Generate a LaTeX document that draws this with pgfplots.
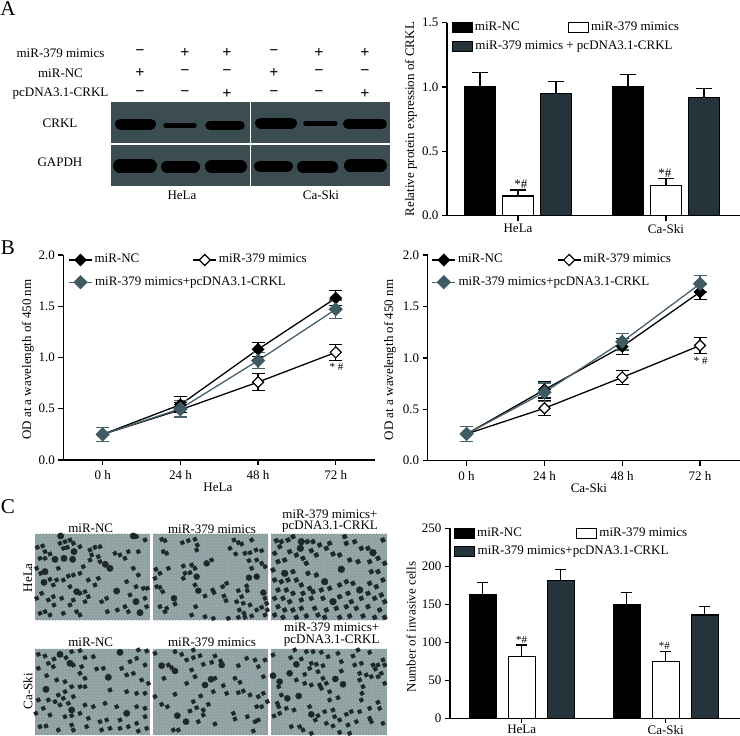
\documentclass[border=0pt]{standalone}
\usepackage{fontspec}
\setmainfont{Liberation Serif}
\usepackage{pgfplots}
\pgfplotsset{compat=1.18}
\usetikzlibrary{patterns}
\definecolor{darkbar}{HTML}{25343A}
\definecolor{tealline}{HTML}{46606A}
\definecolor{tealmark}{HTML}{3F5A62}
\definecolor{blotbg}{HTML}{3C4D52}
\definecolor{microbg}{HTML}{8D9FA1}
\definecolor{microsp}{HTML}{ABB9BA}
\definecolor{blob}{HTML}{20272B}
\newcommand{\tf}{\fontsize{13}{15}\selectfont}
\newcommand{\lab}[3]{\node[font=\tf,inner sep=0pt] at (axis cs:#1,#2) {#3};}
\newcommand{\sgn}[2]{\node[font=\fontsize{16}{18}\selectfont\bfseries,inner sep=0pt] at (axis cs:#1,#2) {−};}
\newcommand{\pls}[2]{\node[font=\fontsize{16}{18}\selectfont\bfseries,inner sep=0pt] at (axis cs:#1,#2) {+};}
\newcommand{\micro}[4]{\fill[microbg] (axis cs:#1,#2) rectangle (axis cs:#3,#4);
 \fill[pattern=crosshatch dots,pattern color=microsp] (axis cs:#1,#2) rectangle (axis cs:#3,#4);}
\pgfplotsset{
 pix/.style={hide axis,scale only axis,clip=false,y dir=reverse,anchor=south west},
 band/.style={no marks,line width=#1,line cap=round,color=black,forget plot},
 big/.style={only marks,mark=*,mark size=#1,color=blob},
 small/.style={only marks,mark=square*,mark size=#1,color=blob,mark options={rotate=25,rounded corners=0.9pt}},
 chart/.style={scale only axis,anchor=south west,enlargelimits=false,clip=false,
  axis x line=bottom,axis y line=left,
  axis line style={-,line width=1.4pt},
  tick style={black,line width=1.4pt},major tick length=5pt,tick align=outside,
  xtick pos=bottom,ytick pos=left,
  tick label style={font=\tf},label style={font=\tf},
  ylabel style={anchor=center},xlabel style={anchor=center},
  legend cell align=left},
 leg/.style 2 args={legend columns=2,legend style={draw=none,fill=none,inner sep=0pt,outer sep=0pt,
  at={(axis description cs:0,1)},anchor=north west,xshift=#1,yshift=#2,
  nodes={inner sep=0pt,font=\tf,text height=9pt,text depth=3pt},
  /tikz/every even column/.style={column sep=0pt},
  /tikz/every odd column/.style={column sep=2pt}}},
 swatch/.style={legend image code/.code={\draw[##1,line width=1.2pt] (0pt,-5pt) rectangle (20pt,5pt);}},
 linekey/.style={legend image code/.code={\draw[mark repeat=2,mark phase=2,##1] plot coordinates {(0pt,0pt)(11.5pt,0pt)(23pt,0pt)};}},
 barerr/.style={error bars/.cd,y dir=plus,y explicit,
  error bar style={black,line width=1.2pt},error mark options={rotate=90,black,line width=1.2pt,mark size=#1}},
 lineerr/.style={error bars/.cd,y dir=both,y explicit,
  error bar style={#1,line width=1.2pt},error mark options={rotate=90,#1,line width=1.2pt,mark size=6.5pt}},
 nc/.style={color=black,line width=1.3pt,mark=square*,mark size=3.9pt,mark options={rotate=45,fill=black,solid}},
 mi/.style={color=black,line width=1.3pt,mark=square*,mark size=3.9pt,mark options={rotate=45,fill=white,solid,line width=1.2pt}},
 pc/.style={color=tealline,line width=1.3pt,mark=square*,mark size=4.4pt,mark options={rotate=45,fill=tealmark,draw=tealmark,solid}},
}
\begin{document}
\begin{tikzpicture}
\useasboundingbox (0,0) rectangle (740pt,736pt);
% ---------- pixel-coordinate layer: blot, micrograph grounds, texts
\begin{axis}[pix,at={(0pt,0pt)},width=740pt,height=736pt,xmin=0,xmax=740,ymin=0,ymax=736]
\fill[blotbg] (axis cs:111,102.3) rectangle (axis cs:250,143.3);
\fill[blotbg] (axis cs:251,102.3) rectangle (axis cs:390,143.3);
\fill[blotbg] (axis cs:111,145) rectangle (axis cs:250,186);
\fill[blotbg] (axis cs:251,145) rectangle (axis cs:390,186);
\addplot[band=11pt] coordinates {(120.5,124)(150.5,124)};
\addplot[band=5.5pt] coordinates {(166,125.7)(194,125.7)};
\addplot[band=9.5pt] coordinates {(210,125.3)(240,125.3)};
\addplot[band=11pt] coordinates {(260.5,123)(291.5,123)};
\addplot[band=5.5pt] coordinates {(306,123.3)(335,123.3)};
\addplot[band=10pt] coordinates {(348,123.7)(382,123.7)};
\addplot[band=14pt] coordinates {(120,165.7)(150,165.7)};
\addplot[band=12pt] coordinates {(167,166.7)(194,166.7)};
\addplot[band=13pt] coordinates {(211.5,166.5)(240.5,166.5)};
\addplot[band=11pt] coordinates {(259.5,166)(287.5,166)};
\addplot[band=12pt] coordinates {(303,166.7)(332,166.7)};
\addplot[band=13pt] coordinates {(350.5,165.7)(380.5,165.7)};
\micro{35}{533.7}{150}{620}
\micro{153.3}{533.7}{268.3}{620}
\micro{271}{533.7}{387}{620}
\micro{35}{648.7}{150}{735}
\micro{153.3}{648.7}{268.3}{735}
\micro{271}{648.7}{387}{735}
\lab{60.5}{53}{miR-379 mimics}
\lab{60.5}{73}{miR-NC}
\lab{60.5}{94}{pcDNA3.1-CRKL}
\lab{60}{123}{CRKL}
\lab{60}{162}{GAPDH}
\lab{182}{195}{HeLa}
\lab{321}{195}{Ca-Ski}
\lab{90.7}{528.7}{miR-NC}
\lab{212}{529}{miR-379 mimics}
\lab{330}{514}{miR-379 mimics+}
\lab{330}{527}{pcDNA3.1-CRKL}
\lab{90.7}{642}{miR-NC}
\lab{212}{642}{miR-379 mimics}
\lab{331.7}{627.7}{miR-379 mimics+}
\lab{331.7}{640.7}{pcDNA3.1-CRKL}
\node[font=\tf,inner sep=0pt,rotate=90] at (axis cs:28,577.7) {HeLa};
\node[font=\tf,inner sep=0pt,rotate=90] at (axis cs:28,691) {Ca-Ski};
\node[font=\fontsize{21}{23}\selectfont,inner sep=0pt] at (axis cs:8,9) {A};
\node[font=\fontsize{21}{23}\selectfont,inner sep=0pt] at (axis cs:8,248) {B};
\node[font=\fontsize{21}{23}\selectfont,inner sep=0pt] at (axis cs:8,507) {C};
\sgn{140}{53}\pls{140}{73}\sgn{140}{94}
\pls{185}{53}\sgn{185}{73}\sgn{185}{94}
\pls{227}{53}\sgn{227}{73}\pls{227}{94}
\sgn{274}{53}\pls{274}{73}\sgn{274}{94}
\pls{319}{53}\sgn{319}{73}\sgn{319}{94}
\pls{365}{53}\sgn{365}{73}\pls{365}{94}
\end{axis}
% ---------- micrograph cells, HeLa row (crop coordinates)
\begin{axis}[pix,at={(30pt,111pt)},width=125pt,height=95pt,xmin=0,xmax=375,ymin=0,ymax=285]
\addplot[big=3.2pt] coordinates {(42,157)(132,65)(128,88)(318,215)(330,248)(260,183)(226,103)(45,125)(92,18)(310,18)(102,85)(75,88)(240,115)(140,185)};
\addplot[small=1.8pt] coordinates {(22,52)(38,48)(45,65)(30,85)(45,85)(60,72)(20,115)(32,130)(90,40)(105,35)(120,30)(130,40)(112,52)(100,55)(150,50)(180,60)(195,52)(210,50)(185,75)(205,80)(180,90)(210,95)(255,70)(270,75)(295,65)(325,65)(285,85)(320,20)(345,30)(310,115)(325,135)(290,155)(340,175)(318,170)(352,175)(300,195)(285,230)(262,240)(232,245)(175,150)(205,145)(195,165)(150,130)(130,135)(115,138)(100,150)(80,150)(60,148)(70,165)(120,170)(150,190)(165,185)(175,200)(165,215)(130,210)(120,225)(95,205)(70,200)(55,210)(72,225)(45,245)(60,255)(30,250)(100,250)(140,245)(150,255)(215,215)(230,205)(295,245)(345,205)(350,230)(20,205)(35,190)(85,115)(160,110)};
\end{axis}
\begin{axis}[pix,at={(150pt,111pt)},width=125pt,height=95pt,xmin=0,xmax=375,ymin=0,ymax=285]
\addplot[big=3pt] coordinates {(170,100)(72,205)(145,182)(340,188)(297,143)(320,140)(140,140)};
\addplot[small=1.8pt] coordinates {(35,28)(45,32)(97,38)(115,32)(135,28)(142,45)(140,60)(40,65)(50,70)(240,55)(252,30)(265,38)(275,42)(305,30)(257,72)(285,70)(300,68)(318,60)(335,62)(297,92)(320,90)(335,100)(345,110)(305,115)(185,90)(100,108)(125,105)(135,115)(105,130)(120,128)(55,115)(30,130)(18,118)(15,145)(100,145)(20,170)(30,172)(38,185)(135,165)(165,198)(188,180)(192,188)(218,170)(230,160)(265,182)(290,168)(292,182)(222,198)(228,212)(275,200)(260,215)(280,220)(300,225)(345,205)(350,220)(30,230)(50,235)(45,245)(75,222)(137,230)(125,255)(268,240)(282,250)(320,240)(335,232)(165,260)(190,265)(235,265)(265,262)(285,262)(305,258)(345,255)(352,240)};
\end{axis}
\begin{axis}[pix,at={(268pt,111pt)},width=125pt,height=95pt,xmin=0,xmax=375,ymin=0,ymax=285]
\addplot[big=3.4pt] coordinates {(97,55)(315,68)(100,35)(275,180)(195,215)(170,155)(220,118)(50,130)};
\addplot[small=2pt] coordinates {(25,32)(40,35)(35,50)(60,30)(75,20)(118,35)(135,35)(130,62)(155,45)(175,55)(185,40)(230,20)(235,40)(260,35)(280,55)(300,55)(345,30)(20,70)(65,65)(85,75)(50,90)(30,95)(105,85)(115,100)(145,75)(195,72)(215,75)(245,90)(270,95)(305,95)(330,85)(350,100)(15,120)(75,125)(120,130)(145,135)(310,125)(330,125)(20,150)(40,155)(60,150)(85,150)(100,165)(125,175)(135,185)(160,180)(185,175)(215,165)(235,155)(255,160)(305,160)(325,170)(345,150)(30,180)(55,180)(75,190)(105,190)(240,190)(300,190)(340,195)(20,205)(45,205)(65,215)(100,210)(130,205)(165,205)(215,200)(250,215)(280,205)(320,205)(350,215)(30,230)(50,240)(75,240)(100,235)(140,235)(175,240)(205,235)(235,230)(265,235)(300,230)(335,240)(20,255)(45,262)(85,262)(115,258)(150,255)(170,262)(215,262)(245,258)(285,258)(320,262)(350,262)};
\end{axis}
% ---------- micrograph cells, Ca-Ski row (crop coordinates)
\begin{axis}[pix,at={(30pt,0pt)},width=125pt,height=91pt,xmin=0,xmax=375,ymin=0,ymax=273]
\addplot[big=3.2pt] coordinates {(270,22)(290,205)(235,97)(120,55)(90,28)(48,133)(125,195)};
\addplot[small=1.8pt] coordinates {(25,28)(45,33)(72,42)(108,38)(125,20)(165,38)(190,35)(150,17)(300,50)(325,15)(350,18)(320,40)(345,60)(25,70)(50,92)(70,65)(55,55)(130,60)(155,65)(200,72)(220,70)(150,85)(165,100)(80,105)(105,110)(125,125)(150,125)(165,125)(275,70)(290,90)(310,85)(335,105)(355,115)(240,135)(290,140)(320,145)(345,145)(85,150)(105,140)(100,160)(130,155)(55,165)(75,170)(40,190)(90,180)(115,175)(165,180)(190,185)(225,175)(345,190)(320,185)(260,185)(60,210)(105,215)(125,212)(150,205)(175,220)(210,230)(230,225)(270,225)(295,245)(320,235)(345,215)(30,245)(48,243)(85,255)(125,240)(130,255)(170,245)(215,255)(240,250)(270,250)(325,258)(350,250)(18,205)(25,165)};
\end{axis}
\begin{axis}[pix,at={(150pt,0pt)},width=125pt,height=91pt,xmin=0,xmax=375,ymin=0,ymax=273]
\addplot[big=3.1pt] coordinates {(183,103)(108,230)(165,120)(215,60)(35,62)(75,78)(82,212)};
\addplot[small=1.8pt] coordinates {(75,20)(95,28)(130,15)(150,32)(110,45)(130,38)(195,33)(185,52)(212,48)(55,60)(65,68)(160,58)(265,62)(290,40)(315,45)(325,65)(345,45)(125,75)(135,95)(42,100)(340,95)(255,100)(270,112)(110,115)(220,122)(15,155)(75,148)(190,140)(230,145)(265,143)(280,138)(300,150)(325,155)(340,145)(152,153)(35,178)(52,185)(130,170)(175,178)(140,188)(160,195)(320,185)(335,185)(120,198)(160,210)(250,205)(292,215)(255,222)(315,230)(325,225)(145,230)(195,237)(70,255)(85,255)(310,258)(352,170)(15,25)(195,100)};
\end{axis}
\begin{axis}[pix,at={(268pt,0pt)},width=125pt,height=91pt,xmin=0,xmax=375,ymin=0,ymax=273]
\addplot[big=3.1pt] coordinates {(130,208)(65,85)(92,153)(15,92)(35,110)(202,102)(225,118)(85,58)(58,160)};
\addplot[small=1.8pt] coordinates {(15,30)(68,38)(80,15)(100,42)(115,20)(135,20)(160,22)(180,35)(210,25)(220,50)(255,33)(270,15)(305,22)(345,45)(130,55)(145,58)(165,62)(280,55)(315,60)(330,60)(350,60)(125,70)(150,80)(220,78)(260,60)(322,72)(340,85)(110,88)(165,100)(275,85)(295,90)(310,95)(330,95)(85,105)(110,115)(130,120)(155,120)(175,115)(32,125)(275,105)(350,115)(285,125)(160,130)(185,140)(282,145)(40,150)(210,158)(185,165)(28,175)(32,185)(55,190)(78,195)(280,165)(330,172)(335,190)(125,185)(275,200)(305,190)(18,213)(35,205)(170,200)(195,195)(200,215)(235,208)(250,200)(150,212)(305,220)(175,235)(142,225)(215,225)(240,240)(265,230)(310,230)(345,235)(70,245)(95,245)(105,255)(130,265)(195,243)(215,262)(245,265)};
\end{axis}
% ---------- A: bars
\begin{axis}[chart,at={(447pt,520.3pt)},width=293pt,height=193pt,
 ybar=7pt,bar width=31pt,leg={4.7pt}{1pt},legend style={/tikz/row sep=7pt},
 xmin=-0.48,xmax=1.5,ymin=0,ymax=1.5,
 xtick={0,1},xticklabels={HeLa,Ca-Ski},ytick={0,0.5,1,1.5},yticklabels={0.0,0.5,1.0,1.5},
 ylabel={Relative protein expression of CRKL},ylabel style={at={(axis description cs:-0.123,0.5)}}]
\addplot[swatch,fill=black,draw=black,line width=1.2pt,barerr=8pt] coordinates {(0,1.00) +- (0,0.11) (1,1.00) +- (0,0.10)};
\addlegendentry{\makebox[93pt][l]{miR-NC}}
\addplot[swatch,fill=white,draw=black,line width=1.2pt,barerr=8pt] coordinates {(0,0.153) +- (0,0.047) (1,0.233) +- (0,0.057)};
\addlegendentry{miR-379 mimics}
\addplot[swatch,fill=darkbar,draw=black,line width=1.2pt,barerr=8pt] coordinates {(0,0.95) +- (0,0.09) (1,0.917) +- (0,0.073)};
\addlegendentry{\makebox[0pt][l]{miR-379 mimics + pcDNA3.1-CRKL}}
\node[font=\tf,inner sep=0pt] at (axis cs:0.02,0.246) {*\#};
\node[font=\tf,inner sep=0pt] at (axis cs:0.993,0.33) {*\#};
\end{axis}
% ---------- B: lines, HeLa
\begin{axis}[chart,at={(63.3pt,276pt)},width=311.7pt,height=205pt,
 leg={5pt}{1pt},legend style={/tikz/row sep=10pt},
 xmin=-0.507,xmax=3.505,ymin=0,ymax=2,
 xticklabel style={yshift=-2pt},
 xtick={0,1,2,3},xticklabels={0 h,24 h,48 h,72 h},ytick={0,0.5,1,1.5,2},yticklabels={0.0,0.5,1.0,1.5,2.0},
 ylabel={OD at a wavelength of 450 nm},ylabel style={at={(axis description cs:-0.113,0.49)}},
 xlabel={HeLa},xlabel style={at={(axis description cs:0.496,-0.135)}}]
\addplot[nc,linekey,lineerr=black] coordinates {(0,0.25) +- (0,0.07) (1,0.54) +- (0,0.08) (2,1.08) +- (0,0.07) (3,1.58) +- (0,0.07)};
\addlegendentry{\makebox[98pt][l]{miR-NC}}
\addplot[mi,linekey,lineerr=black] coordinates {(0,0.25) +- (0,0.07) (1,0.49) +- (0,0.07) (2,0.76) +- (0,0.08) (3,1.05) +- (0,0.08)};
\addlegendentry{miR-379 mimics}
\addplot[pc,linekey,lineerr=tealline] coordinates {(0,0.25) +- (0,0.07) (1,0.50) +- (0,0.08) (2,0.97) +- (0,0.08) (3,1.47) +- (0,0.09)};
\addlegendentry{\makebox[0pt][l]{miR-379 mimics+pcDNA3.1-CRKL}}
\node[font=\fontsize{11}{12}\selectfont,inner sep=0pt] at (axis cs:3.01,0.91) {* \#};
\end{axis}
% ---------- B: lines, Ca-Ski
\begin{axis}[chart,at={(427.7pt,275.3pt)},width=312.3pt,height=205.7pt,
 leg={4pt}{1pt},legend style={/tikz/row sep=10pt},
 xmin=-0.5,xmax=3.513,ymin=0,ymax=2,
 xticklabel style={yshift=-2pt},
 xtick={0,1,2,3},xticklabels={0 h,24 h,48 h,72 h},ytick={0,0.5,1,1.5,2},yticklabels={0.0,0.5,1.0,1.5,2.0},
 ylabel={OD at a wavelength of 450 nm},ylabel style={at={(axis description cs:-0.121,0.49)}},
 xlabel={Ca-Ski},xlabel style={at={(axis description cs:0.516,-0.135)}}]
\addplot[nc,linekey,lineerr=black] coordinates {(0,0.26) +- (0,0.07) (1,0.69) +- (0,0.08) (2,1.11) +- (0,0.08) (3,1.64) +- (0,0.07)};
\addlegendentry{\makebox[99pt][l]{miR-NC}}
\addplot[mi,linekey,lineerr=black] coordinates {(0,0.26) +- (0,0.07) (1,0.51) +- (0,0.07) (2,0.81) +- (0,0.07) (3,1.12) +- (0,0.08)};
\addlegendentry{miR-379 mimics}
\addplot[pc,linekey,lineerr=tealline] coordinates {(0,0.26) +- (0,0.07) (1,0.665) +- (0,0.09) (2,1.157) +- (0,0.08) (3,1.72) +- (0,0.08)};
\addlegendentry{\makebox[0pt][l]{miR-379 mimics+pcDNA3.1-CRKL}}
\node[font=\fontsize{11}{12}\selectfont,inner sep=0pt] at (axis cs:3.01,0.97) {* \#};
\end{axis}
% ---------- C: bars
\begin{axis}[chart,at={(450pt,17.7pt)},width=290pt,height=190pt,
 ybar=12pt,bar width=27pt,leg={4pt}{1pt},legend style={/tikz/row sep=6pt},
 xmin=-0.498,xmax=1.516,ymin=0,ymax=250,
 xticklabel style={yshift=1.5pt,text depth=0pt},
 xtick={0,1},xticklabels={HeLa,Ca-Ski},ytick={0,50,100,150,200,250},yticklabels={0,50,100,150,200,250},
 ylabel={Number of invasive cells},ylabel style={at={(axis description cs:-0.134,0.48)}}]
\addplot[swatch,fill=black,draw=black,line width=1.2pt,barerr=5.5pt] coordinates {(0,162.7) +- (0,16.3) (1,150) +- (0,16)};
\addlegendentry{\makebox[99pt][l]{miR-NC}}
\addplot[swatch,fill=white,draw=black,line width=1.2pt,barerr=5.5pt] coordinates {(0,81) +- (0,15.5) (1,75) +- (0,13)};
\addlegendentry{miR-379 mimics}
\addplot[swatch,fill=darkbar,draw=black,line width=1.2pt,barerr=5.5pt] coordinates {(0,181) +- (0,15) (1,136) +- (0,11)};
\addlegendentry{\makebox[0pt][l]{miR-379 mimics+pcDNA3.1-CRKL}}
\node[font=\fontsize{11}{12}\selectfont,inner sep=0pt] at (axis cs:0,103) {*\#};
\node[font=\fontsize{11}{12}\selectfont,inner sep=0pt] at (axis cs:0.99,95.6) {*\#};
\end{axis}
\end{tikzpicture}
\end{document}
